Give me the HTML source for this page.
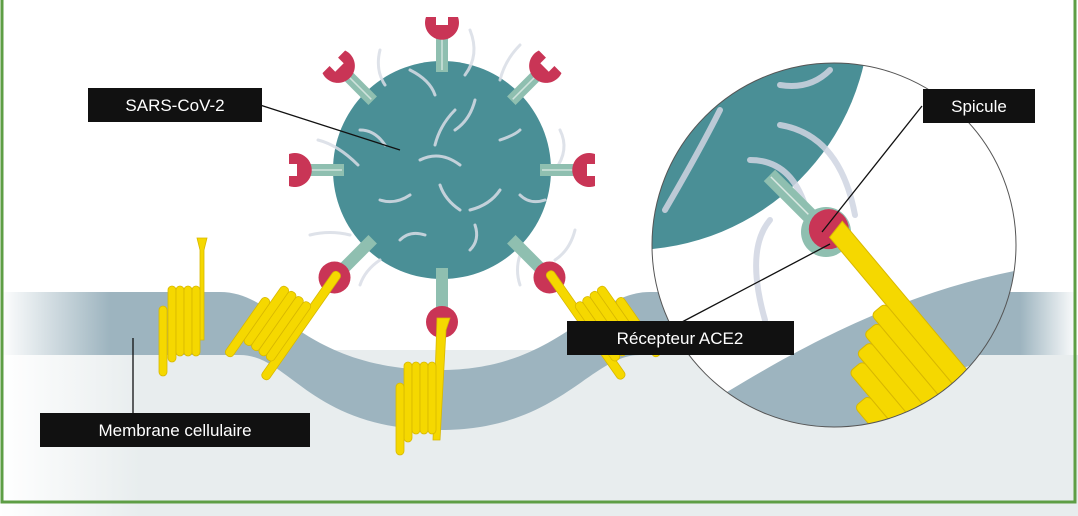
<!DOCTYPE html>
<html><head><meta charset="utf-8"><style>
html,body{margin:0;padding:0;background:#fff;}
svg{display:block}
text{font-family:"Liberation Sans",sans-serif;font-size:17px;fill:#fff}
</style></head><body>
<svg width="1078" height="516" viewBox="0 0 1078 516" xmlns="http://www.w3.org/2000/svg">
<defs>
<linearGradient id="grayL" x1="0" x2="1"><stop offset="0" stop-color="#fff"/><stop offset="1" stop-color="#e8edee"/></linearGradient>
<linearGradient id="bandL" x1="0" x2="1"><stop offset="0" stop-color="#fff"/><stop offset="1" stop-color="#9db4bf"/></linearGradient>
<linearGradient id="bandR" x1="0" x2="1"><stop offset="0" stop-color="#9db4bf"/><stop offset="1" stop-color="#fff"/></linearGradient>
<clipPath id="zc"><circle cx="834" cy="245" r="182"/></clipPath>
<g id="spike">
<rect x="-6" y="-138" width="12" height="40" fill="#8fbfb0"/>
<line x1="0" y1="-136" x2="0" y2="-100" stroke="#cfe3dc" stroke-width="1.5"/>
<path d="M-16,-153 a17,17 0 1 0 32,0 l-10,0 l0,8 l-12,0 l0,-8 z" fill="#c93556"/>
</g>
<g id="spikeB">
<rect x="-6" y="-138" width="12" height="40" fill="#8fbfb0"/>
<circle cx="0" cy="-152" r="16" fill="#c93556"/>
</g>
</defs>
<rect x="0" y="350" width="1078" height="166" fill="#e8edee"/>
<rect x="0" y="350" width="140" height="166" fill="url(#grayL)"/>
<path d="M0,292 L220,292 C280,292 300,370 440,370 C560,370 590,292 650,292 L1078,292 L1078,355 L640,355 C590,355 560,430 440,430 C310,430 290,355 240,355 L0,355 Z" fill="#9db4bf"/>
<rect x="0" y="292" width="110" height="63" fill="url(#bandL)"/>
<rect x="1020" y="292" width="58" height="63" fill="url(#bandR)"/>
<circle cx="442" cy="170" r="109" fill="#4a8f96"/>
<g stroke="#d9dde6" stroke-width="3" fill="none" stroke-linecap="round" opacity="0.85">
<path d="M410,70 q20,10 25,25"/><path d="M455,110 q-15,15 -20,35"/><path d="M475,100 q-5,20 -20,30"/>
<path d="M420,160 q20,-10 40,5"/><path d="M500,140 q15,-5 20,-10"/><path d="M440,185 q5,15 20,25"/>
<path d="M380,200 q15,5 30,-5"/><path d="M470,210 q20,-5 30,-20"/><path d="M520,195 q10,10 25,5"/>
<path d="M400,240 q10,-10 25,-5"/><path d="M470,250 q10,-10 5,-25"/><path d="M360,130 q15,0 25,15"/>
<path d="M318,140 q20,5 40,25"/><path d="M560,130 q10,20 -5,40"/><path d="M575,230 q-5,20 -20,30"/>
<path d="M310,235 q20,-5 40,0"/><path d="M360,285 q5,-15 20,-25"/><path d="M520,285 q-5,-15 0,-30"/>
<path d="M470,30 q10,25 -5,45"/><path d="M520,45 q-15,15 -20,35"/><path d="M380,50 q-5,20 5,35"/>
</g>
<g transform="translate(442,170)">
<use href="#spike"/><use href="#spike" transform="rotate(-45)"/><use href="#spike" transform="rotate(45)"/>
<use href="#spike" transform="rotate(-90)"/><use href="#spike" transform="rotate(90)"/>
<use href="#spikeB" transform="rotate(135)"/><use href="#spikeB" transform="rotate(180)"/><use href="#spikeB" transform="rotate(225)"/>
</g>
<g fill="#f5d800" stroke="#d8b800" stroke-width="0.8">
<path d="M197,238 L207,238 L204,250 L204,340 L200,340 L200,250 Z"/>
<rect x="168" y="286" width="8" height="76" rx="4"/><rect x="176" y="286" width="8" height="70" rx="4"/><rect x="184" y="286" width="8" height="70" rx="4"/><rect x="192" y="286" width="8" height="70" rx="4"/><rect x="159" y="306" width="8" height="70" rx="4"/>
<path d="M437,318 L450,318 L446,330 L440,440 L433,440 Z" />
<rect x="404" y="362" width="8" height="80" rx="4"/><rect x="412" y="362" width="8" height="72" rx="4"/><rect x="420" y="362" width="8" height="72" rx="4"/><rect x="428" y="362" width="8" height="72" rx="4"/><rect x="396" y="383" width="8" height="72" rx="4"/>
<g transform="translate(338,272) rotate(35)">
<rect x="-4" y="0" width="9" height="130" rx="4"/>
<rect x="-38" y="42" width="9" height="70" rx="4"/><rect x="-29" y="42" width="9" height="70" rx="4"/><rect x="-20" y="42" width="9" height="70" rx="4"/><rect x="-11" y="42" width="9" height="70" rx="4"/><rect x="-47" y="62" width="9" height="70" rx="4"/>
</g>
<g transform="translate(548,272) rotate(-35)">
<rect x="-4" y="0" width="9" height="130" rx="4"/>
<rect x="29" y="42" width="9" height="70" rx="4"/><rect x="20" y="42" width="9" height="70" rx="4"/><rect x="11" y="42" width="9" height="70" rx="4"/><rect x="2" y="42" width="9" height="70" rx="4"/><rect x="38" y="62" width="9" height="70" rx="4"/>
</g>
</g>
<g clip-path="url(#zc)">
<rect x="650" y="60" width="370" height="370" fill="#fff"/>
<path d="M640,445 C720,400 850,300 1030,268 L1030,350 C950,362 900,400 860,445 Z" fill="#9db4bf"/>
<path d="M860,445 C900,400 950,362 1030,350 L1030,445 Z" fill="#e8edee"/>
<circle cx="630" cy="10" r="240" fill="#4a8f96"/>
<g stroke="#d0d5e2" stroke-width="6" fill="none" stroke-linecap="round" opacity="0.85">
<path d="M830,70 q-20,20 -50,15"/><path d="M720,110 q-20,40 -55,100"/><path d="M780,125 q60,10 75,90"/><path d="M750,160 q40,0 55,45"/><path d="M770,220 q-25,30 -5,100"/>
</g>
<g transform="translate(826,232) rotate(-45)">
<rect x="-8" y="-80" width="16" height="70" fill="#8fbfb0"/><line x1="0" y1="-78" x2="0" y2="-12" stroke="#dbe9e3" stroke-width="1.5"/>
<circle cx="0" cy="0" r="25" fill="#8fbfb0"/><circle cx="4" cy="0" r="20" fill="#c93556"/>
</g>
<g fill="#f5d800" stroke="#d8b800" stroke-width="1" transform="translate(838,238) rotate(-40)">
<path d="M-6,-6 L14,-10 L14,190 L-6,190 Z"/>
<rect x="-60" y="100" width="18" height="120" rx="5"/><rect x="-42" y="90" width="18" height="130" rx="5"/><rect x="-24" y="80" width="18" height="140" rx="5"/><rect x="-78" y="110" width="18" height="110" rx="5"/><rect x="-96" y="140" width="18" height="80" rx="5"/>
</g>
</g>
<circle cx="834" cy="245" r="182" fill="none" stroke="#555" stroke-width="1"/>
<g stroke="#111" stroke-width="1.3">
<line x1="260" y1="105" x2="400" y2="150"/>
<line x1="922" y1="106" x2="822" y2="232"/>
<line x1="682" y1="322" x2="830" y2="244"/>
<line x1="133" y1="338" x2="133" y2="416"/>
</g>
<rect x="88" y="88" width="174" height="34" fill="#111"/><text x="175" y="111" text-anchor="middle">SARS-CoV-2</text>
<rect x="923" y="89" width="112" height="34" fill="#111"/><text x="979" y="112" text-anchor="middle">Spicule</text>
<rect x="567" y="321" width="227" height="34" fill="#111"/><text x="680" y="344" text-anchor="middle">Récepteur ACE2</text>
<rect x="40" y="413" width="270" height="34" fill="#111"/><text x="175" y="436" text-anchor="middle">Membrane cellulaire</text>
<path d="M2,0 L2,502 L1075,502 L1075,0" fill="none" stroke="#5e9e45" stroke-width="3"/>
</svg>
</body></html>
